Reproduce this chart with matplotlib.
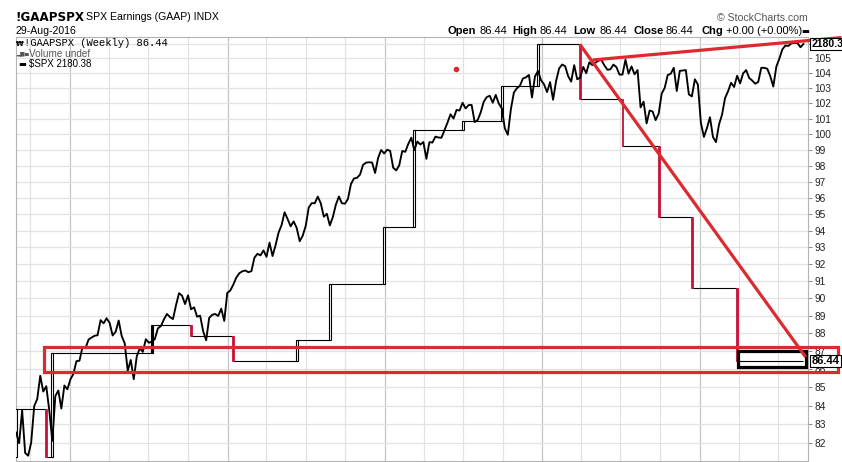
import pandas as pd
import matplotlib
matplotlib.use("Agg")
import matplotlib.pyplot as plt
import matplotlib.dates as mdates
import matplotlib.ticker as mticker
import matplotlib.transforms as mtrans
from matplotlib.patches import Rectangle

W, H = 842, 462

# $SPX weekly closes, one per week, first week = Mon 29-Aug-2011
spx_start = "2011-08-29"
spx_2011 = [1173.97, 1154.23, 1216.01, 1136.43, 1131.42, 1155.46, 1224.58, 1238.25, 1285.09,
            1253.23, 1263.85, 1215.65, 1158.67, 1244.28, 1255.19, 1219.66, 1265.33, 1257.60]
spx_2012 = [1277.81, 1289.09, 1315.38, 1316.33, 1344.90, 1342.64, 1361.23, 1365.74, 1369.63,
            1370.87, 1404.17, 1397.11, 1408.47, 1398.08, 1370.26, 1378.53, 1403.36, 1369.10,
            1353.39, 1295.22, 1317.82, 1278.04, 1325.66, 1342.84, 1335.02, 1362.16, 1354.68,
            1356.78, 1362.66, 1385.97, 1390.99, 1405.87, 1418.16, 1411.13, 1406.58, 1437.92,
            1465.77, 1460.15, 1440.67, 1460.93, 1428.59, 1433.19, 1411.94, 1414.20, 1379.85,
            1359.88, 1409.15, 1416.18, 1418.07, 1413.58, 1430.15, 1402.43]
spx_2013 = [1466.47, 1472.05, 1485.98, 1502.96, 1513.17, 1517.93, 1519.79, 1515.60, 1518.20,
            1551.18, 1560.70, 1556.89, 1569.19, 1553.28, 1588.85, 1555.25, 1582.24, 1614.42,
            1633.70, 1667.47, 1649.60, 1630.74, 1643.38, 1626.73, 1592.43, 1606.28, 1631.89,
            1680.19, 1692.09, 1691.65, 1709.67, 1691.42, 1655.83, 1663.50, 1632.97, 1655.17,
            1687.99, 1709.91, 1691.75, 1690.50, 1703.20, 1744.50, 1759.77, 1761.64, 1770.61,
            1798.18, 1804.76, 1805.81, 1805.09, 1775.32, 1818.32, 1841.40]
spx_2014 = [1831.37, 1842.37, 1838.70, 1790.29, 1782.59, 1797.02, 1838.63, 1836.25, 1859.45,
            1878.04, 1841.13, 1866.52, 1857.62, 1865.09, 1815.69, 1864.85, 1863.40, 1881.14,
            1878.48, 1877.86, 1900.53, 1923.57, 1949.44, 1936.16, 1962.87, 1960.96, 1985.44,
            1967.57, 1978.22, 1978.34, 1925.15, 1931.59, 1955.06, 1988.40, 2003.37, 2007.71,
            1985.54, 2010.40, 1982.85, 1967.90, 1906.13, 1886.76, 1964.58, 2018.05, 2031.92,
            2039.82, 2063.50, 2067.56, 2075.37, 2002.33, 2070.65, 2088.77]
spx_2015 = [2058.20, 2044.81, 2019.42, 2051.82, 1994.99, 2055.47, 2096.99, 2110.30, 2104.50,
            2071.26, 2053.40, 2108.10, 2061.02, 2066.96, 2102.06, 2081.18, 2117.69, 2108.29,
            2116.10, 2122.73, 2126.06, 2107.39, 2092.83, 2094.11, 2109.99, 2101.49, 2076.78,
            2076.62, 2126.64, 2079.65, 2103.84, 2077.57, 2091.54, 1970.89, 1988.87, 1921.22,
            1961.05, 1958.03, 1931.34, 1951.36, 2014.89, 2033.11, 2075.15, 2079.36, 2099.20,
            2023.04, 2089.17, 2090.11, 2091.69, 2012.37, 2005.55, 2060.99, 2043.94]
spx_2016 = [1922.03, 1880.33, 1906.90, 1940.24, 1880.05, 1864.78, 1917.78, 1948.05, 1999.99,
            2022.19, 2049.58, 2035.94, 2072.78, 2047.60, 2080.73, 2091.58, 2065.30, 2057.14,
            2046.61, 2052.32, 2099.06, 2099.13, 2096.07, 2071.22, 2037.41, 2102.95, 2129.90,
            2161.74, 2175.03, 2173.60, 2182.87, 2184.05, 2183.87, 2169.04, 2180.38]
spx = spx_2011 + spx_2012 + spx_2013 + spx_2014 + spx_2015 + spx_2016

# !GAAPSPX: week where the value changes, and the new value
eps_dates = ["2011-08-29", "2011-11-07", "2011-11-21", "2012-07-09", "2012-10-08", "2013-01-14",
             "2013-06-10", "2013-08-26", "2013-12-30", "2014-03-10", "2014-06-30", "2014-09-29",
             "2014-12-22", "2015-03-30", "2015-07-06", "2015-09-28", "2015-12-14", "2016-03-28"]
eps_values = [83.81, 81.26, 86.90, 88.47, 87.85, 86.45, 87.62, 90.84, 94.24, 100.25, 100.83,
              103.12, 105.95, 102.26, 99.22, 94.85, 90.61, 86.44]
eps_open0 = 81.26
eps_kind = ["up", "down", "up", "fill", "down", "down", "up", "up", "up", "up", "up", "up",
            "up", "down", "down", "down", "down", "down"]

price_ticks = list(range(82, 107))

# hand drawn annotations (date, value on the earnings scale)
band = [("2011-11-01", 85.81), ("2016-11-17", 87.22)]
box = [("2016-03-31", 86.09), ("2016-09-04", 87.00)]
trend_down = [("2015-03-29", 105.95), ("2016-09-03", 86.66)]
trend_top = [("2015-04-28", 104.89), ("2016-11-25", 106.41)]
dot = ("2014-06-14", 104.28)

RED = "#c8143c"
ANN = "#db2a30"

plt.rcParams["font.family"] = ["Liberation Sans", "DejaVu Sans"]

fig = plt.figure(figsize=(W / 100, H / 100), dpi=100)
ax = fig.add_axes([16 / W, 1 / H, (808 - 16) / W, (461 - 37) / H])
ax2 = ax.twinx()

ax.set_yscale("log")
ax.set_ylim(81.06, 106.45)
ax2.set_yscale("log")
ax2.set_ylim(1121.9, 2204.8)
ax.set_xlim(pd.Timestamp("2011-08-28 18:00"), pd.Timestamp("2016-09-08 12:00"))

# grid
ax.xaxis.set_major_locator(mdates.YearLocator())
ax.xaxis.set_minor_locator(mdates.MonthLocator(bymonth=[1, 4, 7, 10]))
ax.grid(which="major", axis="x", color="#c4c4c4", lw=0.9)
ax.grid(which="minor", axis="x", color="#e2e2e2", lw=0.9)
ax.tick_params(axis="x", which="both", length=0, labelbottom=False)

ax.set_yticks(price_ticks)
ax.set_yticklabels([str(v) if v < 106 else "" for v in price_ticks])
ax.yaxis.set_minor_locator(mticker.NullLocator())
ax.yaxis.tick_right()
ax.grid(which="major", axis="y", color="#e2e2e2", lw=0.9)
ax.tick_params(axis="y", direction="out", length=3, width=0.7, color="#888888",
               pad=1.5, labelsize=7.3, labelcolor="#222222")
ax.set_axisbelow(True)
for s in ax.spines.values():
    s.set_color("#b4b4b4")
    s.set_linewidth(0.8)
ax2.set_yticks([])
ax2.yaxis.set_minor_locator(mticker.NullLocator())
for s in ax2.spines.values():
    s.set_visible(False)

# earnings steps
eps_d = pd.to_datetime(eps_dates)
spx_dates = pd.date_range(spx_start, periods=len(spx), freq="7D")
ends = list(eps_d[1:]) + [spx_dates[-1]]
for d0, d1, v in zip(eps_d, ends, eps_values):
    ax.hlines(v, d0, d1, color="black", lw=0.8, zorder=3)

opens = [eps_open0] + eps_values[:-1]
for d, o, c, k in zip(eps_d, opens, eps_values, eps_kind):
    lo, hi = min(o, c), max(o, c)
    x = mdates.date2num(d)
    if k == "up":
        ax.bar(x, hi - lo, bottom=lo, width=5, facecolor="white", edgecolor="black",
               lw=0.8, zorder=4)
    elif k == "fill":
        ax.bar(x, hi - lo, bottom=lo, width=5, facecolor="black", edgecolor="black",
               lw=0.8, zorder=4)
    else:
        ax.bar(x, hi - lo, bottom=lo, width=4.5, facecolor=RED, edgecolor=RED,
               lw=0.6, zorder=4)

# $SPX overlay
ax2.plot(spx_dates, spx, color="black", lw=1.35, zorder=3)

# annotations
td = ax.transData
(b0, bl), (b1, bh) = band
ax2.add_patch(Rectangle((mdates.date2num(pd.Timestamp(b0)), bl),
                        mdates.date2num(pd.Timestamp(b1)) - mdates.date2num(pd.Timestamp(b0)),
                        bh - bl, transform=td, fill=False, ec=ANN, lw=2.3,
                        clip_on=False, zorder=6))
(k0, kl), (k1, kh) = box
ax2.add_patch(Rectangle((mdates.date2num(pd.Timestamp(k0)), kl),
                        mdates.date2num(pd.Timestamp(k1)) - mdates.date2num(pd.Timestamp(k0)),
                        kh - kl, transform=td, fill=False, ec="black", lw=2.3,
                        clip_on=False, zorder=6))
for line in (trend_down, trend_top):
    xs = [mdates.date2num(pd.Timestamp(p[0])) for p in line]
    ys = [p[1] for p in line]
    ax2.plot(xs, ys, color=ANN, lw=2.3, transform=td, clip_on=False, zorder=6,
             solid_capstyle="butt")
ax2.plot([mdates.date2num(pd.Timestamp(dot[0]))], [dot[1]], "o", ms=3, color=ANN,
         transform=td, zorder=6)

# value labels at the right edge
bt = mtrans.blended_transform_factory(ax2.transAxes, ax.transData)
ax2.text(1.004, eps_values[-1], "86.44", transform=bt, ha="left", va="center",
         fontsize=8, fontweight="bold", clip_on=False, zorder=8,
         bbox=dict(boxstyle="square,pad=0.12", fc="white", ec="black", lw=0.8))
bt2 = mtrans.blended_transform_factory(ax2.transAxes, ax2.transData)
ax2.text(1.004, spx[-1], "2180.3", transform=bt2, ha="left", va="center",
         fontsize=7.6, fontweight="bold", clip_on=False, zorder=8,
         bbox=dict(boxstyle="square,pad=0.1", fc="white", ec="black", lw=0.8))


def ftext(x, y, s, **kw):
    return fig.text(x / W, 1 - y / H, s, va="center", **kw)


# header
ftext(15, 17.5, "!GAAPSPX", fontsize=8.6, fontweight="bold", family="DejaVu Sans")
ftext(86, 17.5, "SPX Earnings (GAAP) INDX", fontsize=7.6)
ftext(15, 31.5, "29-Aug-2016", fontsize=7.6)
ftext(808, 18, "\u00a9 StockCharts.com", fontsize=7.6, ha="right", color="#555555")

header = [("Open", 448, "bold"), ("86.44", 479, "normal"), ("High", 512, "bold"),
          ("86.44", 539, "normal"), ("Low", 573, "bold"), ("86.44", 599, "normal"),
          ("Close", 633, "bold"), ("86.44", 666, "normal"), ("Chg", 701, "bold"),
          ("+0.00 (+0.00%)", 726, "normal")]
for s, x, w in header:
    ftext(x, 31.5, s, fontsize=8, fontweight=w)
ftext(801, 31.5, "\u25ac", fontsize=6, family="DejaVu Sans")

# legend inside the plot
ftext(16, 43.5, "\u20a9", fontsize=5, fontweight="bold", family="DejaVu Sans")
ftext(24, 43.5, "!GAAPSPX (Weekly) 86.44", fontsize=7.6, family="Liberation Mono")
ftext(16, 54, "\u2582\u2586\u2584", fontsize=4, family="DejaVu Sans", color="#555555")
ftext(29, 54, "Volume undef", fontsize=7.2, color="#555555")
ftext(18, 64.5, "\u25ac", fontsize=6, family="DejaVu Sans")
ftext(29, 64.5, "$SPX 2180.38", fontsize=7.0)

fig.savefig("out.png", dpi=100)
